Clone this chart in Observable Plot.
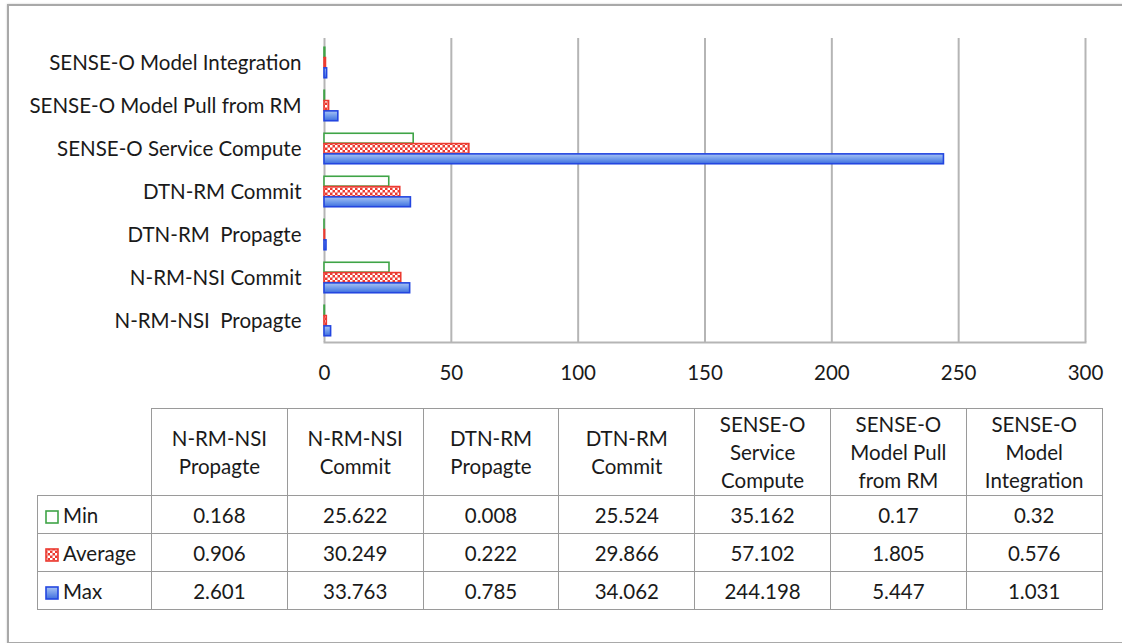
<!DOCTYPE html>
<html>
<head>
<meta charset="utf-8">
<script src="https://cdn.jsdelivr.net/npm/d3@7"></script>
<script src="https://cdn.jsdelivr.net/npm/@observablehq/plot@0.6"></script>
<style>
  html, body { margin: 0; padding: 0; background: #fff; }
  body { width: 1122px; height: 643px; position: relative; overflow: hidden; font-family: Lato, "Open Sans", sans-serif; color: #1a1a1a; }
  #frame { position: absolute; left: 7px; top: 4px; width: 1130px; height: 636px; border: 2px solid #a9a9a9; border-right: none; box-shadow: 0 0 2px #ccc; }
  #chart { position: absolute; left: 0; top: 0; }
  #chart text { white-space: pre; }
  table { position: absolute; left: 37px; top: 408px; border-collapse: collapse; font-size: 20.5px; table-layout: fixed; }
  td, th { border: 1.5px solid #9a9a9a; text-align: center; font-weight: normal; padding: 0 6px; }
  th { height: 86px; line-height: 28px; vertical-align: middle; }
  td { height: 37px; }
  td.lab { text-align: left; padding: 0 0 0 7px; white-space: nowrap; }
  th.blank { border-top: none; border-left: none; }
  .sw { display: inline-block; vertical-align: -1px; margin-right: 4px; }
</style>
</head>
<body>
<div id="frame"></div>
<div id="chart"></div>
<table id="tbl"></table>
<script>
// ---- data ----
const categories = ["N-RM-NSI  Propagte", "N-RM-NSI Commit", "DTN-RM  Propagte", "DTN-RM Commit", "SENSE-O Service Compute", "SENSE-O Model Pull from RM", "SENSE-O Model Integration"];
const tableHeaders = ["N-RM-NSI Propagte", "N-RM-NSI Commit", "DTN-RM Propagte", "DTN-RM Commit", "SENSE-O Service Compute", "SENSE-O Model Pull from RM", "SENSE-O Model Integration"];
const seriesNames = ["Min", "Average", "Max"];
const minValues = [0.168, 25.622, 0.008, 25.524, 35.162, 0.17, 0.32];
const averageValues = [0.906, 30.249, 0.222, 29.866, 57.102, 1.805, 0.576];
const maxValues = [2.601, 33.763, 0.785, 34.062, 244.198, 5.447, 1.031];
const xTicks = [0, 50, 100, 150, 200, 250, 300];

const seriesValues = [minValues, averageValues, maxValues];
const rows = [];
seriesNames.forEach((s, si) => categories.forEach((c, ci) => rows.push({series: s, category: c, value: seriesValues[si][ci]})));

const step = (342 - 38) / categories.length;
const barH = 10.3;
const groupTop = (step - 3 * barH) / 2 + 1;
const styles = {
  Min: {fill: "#ffffff", stroke: "#3fa447"},
  Average: {fill: "url(#checkRed)", stroke: "#ec3a30"},
  Max: {fill: "url(#blueGrad)", stroke: "#2346e0"}
};

const marks = [Plot.gridX(xTicks, {stroke: "#b5b5b5", strokeWidth: 2, strokeOpacity: 1})];
seriesNames.forEach((s, i) => {
  const top = groupTop + i * barH;
  marks.push(Plot.barX(rows.filter(d => d.series === s), {
    x: "value", y: "category",
    fill: styles[s].fill, stroke: styles[s].stroke, strokeWidth: 1.6,
    insetTop: top, insetBottom: step - top - barH
  }));
});
marks.push(Plot.frame({anchor: "bottom", stroke: "#b5b5b5", strokeWidth: 2}));
marks.push(Plot.axisX(xTicks, {tickSize: 0, tickPadding: 23, fontSize: 20.5, fill: "#1a1a1a"}));
marks.push(Plot.axisY({tickSize: 0, tickPadding: 23, fontSize: 20.5, fill: "#1a1a1a", label: null, dy: 1}));

const svg = Plot.plot({
  width: 1122, height: 400,
  marginTop: 38, marginBottom: 58, marginLeft: 324, marginRight: 37,
  style: {fontFamily: "Lato, 'Open Sans', sans-serif", background: "transparent"},
  x: {domain: [0, 300], label: null},
  y: {domain: categories.slice().reverse(), padding: 0, label: null},
  marks
});

const defs = d3.select(svg).insert("defs", ":first-child");
const pat = defs.append("pattern").attr("id", "checkRed").attr("patternUnits", "userSpaceOnUse").attr("width", 5).attr("height", 5);
pat.append("rect").attr("width", 5).attr("height", 5).attr("fill", "#ec3a30");
pat.append("rect").attr("x", 0).attr("y", 0).attr("width", 2.5).attr("height", 2.5).attr("fill", "#ffffff");
pat.append("rect").attr("x", 2.5).attr("y", 2.5).attr("width", 2.5).attr("height", 2.5).attr("fill", "#ffffff");
const grad = defs.append("linearGradient").attr("id", "blueGrad").attr("x1", 0).attr("y1", 0).attr("x2", 0).attr("y2", 1);
grad.append("stop").attr("offset", "0%").attr("stop-color", "#a9c4f3");
grad.append("stop").attr("offset", "55%").attr("stop-color", "#6b97ea");
grad.append("stop").attr("offset", "100%").attr("stop-color", "#3f6fe0");

document.getElementById("chart").appendChild(svg);

// ---- table with legend keys ----
const swatch = {
  Min: `<svg class="sw" width="14" height="14"><rect x="1" y="1" width="12" height="12" fill="#fff" stroke="#3fa447" stroke-width="1.6"/></svg>`,
  Average: `<svg class="sw" width="14" height="14"><defs><pattern id="chk2" patternUnits="userSpaceOnUse" width="5" height="5"><rect width="5" height="5" fill="#ec3a30"/><rect x="0" y="0" width="2.5" height="2.5" fill="#fff"/><rect x="2.5" y="2.5" width="2.5" height="2.5" fill="#fff"/></pattern></defs><rect x="1" y="1" width="12" height="12" fill="url(#chk2)" stroke="#ec3a30" stroke-width="1.6"/></svg>`,
  Max: `<svg class="sw" width="14" height="14"><defs><linearGradient id="bg2" x1="0" y1="0" x2="0" y2="1"><stop offset="0" stop-color="#a9c4f3"/><stop offset="1" stop-color="#3f6fe0"/></linearGradient></defs><rect x="1" y="1" width="12" height="12" fill="url(#bg2)" stroke="#2346e0" stroke-width="1.6"/></svg>`
};
const tbl = document.getElementById("tbl");
let html = `<colgroup><col style="width:114px">` + tableHeaders.map(() => `<col style="width:135.8px">`).join("") + `</colgroup>`;
html += `<tr><th class="blank"></th>` + tableHeaders.map(h => `<th>${h}</th>`).join("") + `</tr>`;
seriesNames.forEach((s, si) => {
  html += `<tr><td class="lab">${swatch[s]}${s}</td>` + seriesValues[si].map(v => `<td>${v}</td>`).join("") + `</tr>`;
});
tbl.innerHTML = html;
</script>
</body>
</html>
